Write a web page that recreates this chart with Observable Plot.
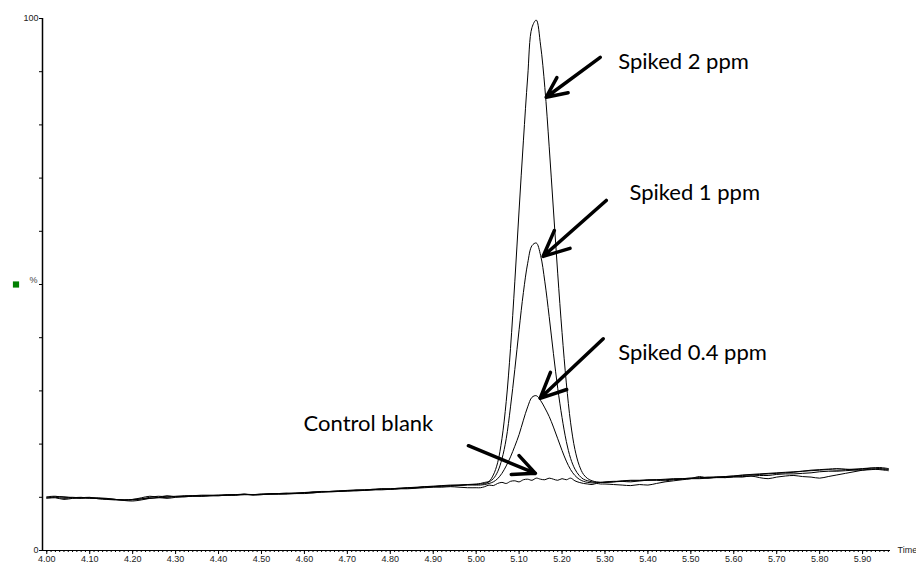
<!DOCTYPE html>
<html>
<head>
<meta charset="utf-8">
<script src="https://cdn.jsdelivr.net/npm/d3@7"></script>
<script src="https://cdn.jsdelivr.net/npm/@observablehq/plot@0.6"></script>
<style>
  html, body { margin: 0; padding: 0; background: #fff; }
  #chart svg { display: block; }
</style>
</head>
<body>
<div id="chart"></div>
<script>
// ---- sampling times (minutes) ----
const times = [
  4.00,4.02,4.04,4.06,4.08,4.10,4.12,4.14,4.16,4.18,4.20,4.22,4.24,4.26,4.28,4.30,4.32,4.34,4.36,4.38,
  4.40,4.42,4.44,4.46,4.48,4.50,4.52,4.54,4.56,4.58,4.60,4.62,4.64,4.66,4.68,4.70,4.72,4.74,4.76,4.78,
  4.80,4.82,4.84,4.86,4.88,4.90,4.92,4.94,4.96,4.98,5.00,
  5.01,5.02,5.03,5.04,5.05,5.06,5.07,5.08,5.09,5.10,5.11,5.12,5.13,5.14,5.15,5.16,5.17,5.18,5.19,5.20,
  5.21,5.22,5.23,5.24,5.25,5.26,5.27,5.28,5.29,
  5.30,5.32,5.34,5.36,5.38,5.40,5.42,5.44,5.46,5.48,5.50,5.52,5.54,5.56,5.58,5.60,5.62,5.64,5.66,5.68,
  5.70,5.72,5.74,5.76,5.78,5.80,5.82,5.84,5.86,5.88,5.90,5.92,5.94,5.96
];

// ---- relative intensity (%) per trace ----
const spiked2 = [
  10.1,10.2,10.0,10.0,9.9,9.9,9.8,9.7,9.6,9.5,9.5,9.7,10.0,10.2,10.1,10.2,10.3,10.3,10.4,10.4,
  10.4,10.5,10.5,10.6,10.5,10.6,10.7,10.7,10.7,10.8,10.8,11.0,11.1,11.1,11.2,11.3,11.4,11.4,11.5,11.6,
  11.6,11.7,11.8,11.9,12.0,12.1,12.2,12.3,12.3,12.4,12.5,
  12.6,12.8,13.0,14.2,16.5,21,28,38,50.5,64,77,89,98.3,99.7,95,87,76,64,52,41,
  31.5,24,19,16,14.3,13.5,13.1,12.9,12.8,
  12.8,12.9,13.0,13.1,13.1,13.2,13.3,13.3,13.4,13.5,13.6,13.6,13.7,13.8,13.9,14.0,14.1,14.2,14.3,14.4,
  14.5,14.6,14.7,14.9,15.0,15.1,15.2,15.1,15.2,15.3,15.4,15.5,15.4,15.3
];
const spiked1 = [
  10.0,10.1,10.1,9.9,9.8,9.9,9.9,9.8,9.6,9.4,9.3,9.5,9.8,10.0,10.3,10.1,10.1,10.2,10.3,10.3,
  10.4,10.4,10.5,10.5,10.5,10.6,10.6,10.7,10.8,10.7,10.9,10.9,11.0,11.1,11.2,11.2,11.3,11.4,11.5,11.5,
  11.6,11.7,11.7,11.8,12.0,12.0,12.1,12.2,12.3,12.4,12.4,
  12.5,12.6,12.9,13.5,14.8,17.2,21,27,34,41.5,48.5,54,57.3,57.8,55.5,50.5,44,37,30.5,25,
  20.5,17.3,15.3,14.1,13.4,13.1,12.9,12.8,12.8,
  12.8,12.9,13.1,13.2,13.2,13.3,13.3,13.4,13.5,13.5,13.6,13.7,13.8,13.8,13.9,14.0,14.2,14.3,14.4,14.5,
  14.6,14.7,14.8,14.9,15.1,15.2,15.3,15.4,15.3,15.2,15.3,15.5,15.6,15.4
];
const spiked04 = [
  9.8,9.9,9.6,9.8,9.9,10.0,9.7,9.6,9.5,9.5,9.6,9.9,10.2,10.0,9.8,10.0,10.2,10.3,10.2,10.3,
  10.3,10.4,10.4,10.6,10.4,10.5,10.6,10.6,10.6,10.7,10.7,10.8,11.0,11.0,11.1,11.2,11.2,11.3,11.4,11.6,
  11.5,11.6,11.8,11.8,11.9,12.0,12.1,12.1,12.2,12.3,12.3,
  12.3,12.4,12.6,12.9,13.5,14.5,15.9,17.6,19.6,21.8,24.5,27,28.8,29.1,28.2,26.8,25.2,23.2,21,18.8,
  16.8,15.2,14.1,13.4,13.0,12.8,12.7,12.7,12.8,
  12.9,13.0,13.0,12.9,13.1,13.2,13.2,13.1,13.3,13.4,13.5,13.5,13.6,13.7,13.7,13.8,13.9,14.0,14.1,14.1,
  14.3,14.4,14.4,14.5,14.6,14.8,14.9,14.9,15.0,15.1,15.1,15.2,15.3,15.2
];
const control = [
  9.9,10.0,9.8,9.9,10.0,9.8,9.8,9.7,9.6,9.5,9.6,9.7,9.8,9.9,10.0,10.1,10.1,10.2,10.2,10.3,
  10.3,10.4,10.4,10.5,10.5,10.5,10.6,10.6,10.7,10.8,10.9,11.0,11.0,11.1,11.1,11.2,11.3,11.3,11.4,11.4,
  11.5,11.6,11.6,11.7,11.8,11.9,11.9,12.0,11.9,11.8,11.8,
  11.8,12.0,12.3,12.2,12.6,12.8,12.6,13.0,13.1,12.9,13.3,13.4,13.2,13.6,13.4,13.3,13.6,13.4,13.2,13.5,
  13.3,13.6,13.1,12.8,12.6,12.5,12.4,12.6,12.5,
  12.5,12.4,12.3,12.2,12.4,12.3,12.6,12.9,13.1,13.3,13.5,13.9,13.6,13.8,13.7,13.9,13.8,14.0,13.7,13.5,
  13.8,14.0,14.1,13.9,13.8,13.6,13.9,14.2,14.5,14.8,15.1,15.3,15.2,15.0
];

// ---- axes ----
const xDomain = [3.99, 5.965];
const xMajorTicks = [4.0,4.1,4.2,4.3,4.4,4.5,4.6,4.7,4.8,4.9,5.0,5.1,5.2,5.3,5.4,5.5,5.6,5.7,5.8,5.9];
const yTicks = [0,10,20,30,40,50,60,70,80,90,100];
const yTickLabels = {0: "0", 50: "", 100: "100"};
const yUnitLabel = "%";
const xUnitLabel = "Time";

// ---- annotations (data units) ----
const annotLabels = ["Spiked 2 ppm", "Spiked 1 ppm", "Spiked 0.4 ppm", "Control blank"];
const annotTextX  = [5.331, 5.357, 5.331, 4.598];
const annotTextY  = [91.9, 67.3, 37.2, 23.7];
const arrowFromX  = [5.289, 5.303, 5.296, 4.982];
const arrowFromY  = [92.7, 65.8, 39.8, 19.7];
const arrowToX    = [5.163, 5.156, 5.149, 5.138];
const arrowToY    = [85.2, 55.3, 28.6, 14.5];

const series = [
  {name: "Spiked 2 ppm", values: spiked2},
  {name: "Spiked 1 ppm", values: spiked1},
  {name: "Spiked 0.4 ppm", values: spiked04},
  {name: "Control blank", values: control}
];
const rows = series.flatMap(s => s.values.map((v, i) => ({t: times[i], v, s: s.name})));
const annots = annotLabels.map((label, i) => ({
  label, tx: annotTextX[i], ty: annotTextY[i],
  x1: arrowFromX[i], y1: arrowFromY[i], x2: arrowToX[i], y2: arrowToY[i]
}));
const minorTicks = d3.range(400, 597).map(d => d / 100);

const chart = Plot.plot({
  width: 916,
  height: 565,
  marginLeft: 42,
  marginRight: 26,
  marginTop: 18,
  marginBottom: 15,
  style: {fontFamily: "'Liberation Sans', Arial, sans-serif", fontSize: "9px", color: "#222", background: "#fff"},
  x: {domain: xDomain},
  y: {domain: [0, 100]},
  marks: [
    Plot.line(rows, {x: "t", y: "v", z: "s", stroke: "#000", strokeWidth: 1, curve: "catmull-rom"}),
    Plot.ruleX([xDomain[0]], {stroke: "#000", strokeWidth: 1.5}),
    Plot.ruleY([0], {stroke: "#000", strokeWidth: 1}),
    Plot.axisY({ticks: yTicks, tickSize: 3, tickPadding: 1, tickFormat: d => yTickLabels[d] ?? "", label: null, stroke: "#000"}),
    Plot.text([yUnitLabel], {x: () => xDomain[0], y: () => 50, text: d => d, dx: -5, dy: -4, textAnchor: "end", fill: "#444", fontSize: 9}),
    Plot.dot([50], {x: () => xDomain[0], y: d => d, dx: -26.5, symbol: "square", r: 3.5, fill: "#008000", stroke: "none"}),
    Plot.axisX({ticks: minorTicks, tickSize: 2, tickFormat: () => "", label: null, stroke: "#000"}),
    Plot.axisX({ticks: xMajorTicks, tickSize: 4, tickPadding: 1, tickFormat: d3.format(".2f"), label: null, stroke: "#000"}),
    Plot.text([xUnitLabel], {x: () => xDomain[1], y: () => 0, text: d => d, dx: 7, textAnchor: "start", fill: "#222", fontSize: 9}),
    Plot.arrow(annots, {x1: "x1", y1: "y1", x2: "x2", y2: "y2", stroke: "#000", strokeWidth: 3.5, headLength: 12, headAngle: 50}),
    Plot.text(annots, {x: "tx", y: "ty", text: "label", textAnchor: "start", fontSize: 22, fontFamily: "Lato, 'Open Sans', sans-serif", fill: "#000"})
  ]
});
document.getElementById("chart").appendChild(chart);
</script>
</body>
</html>
